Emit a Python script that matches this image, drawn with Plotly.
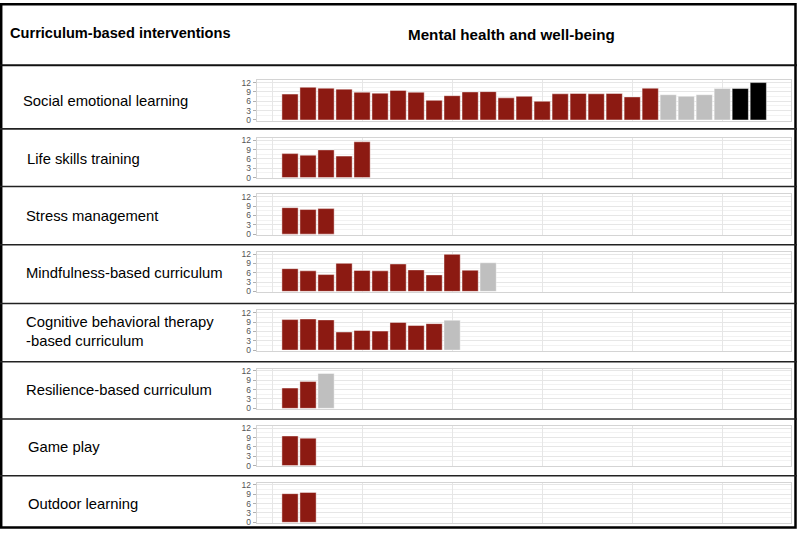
import plotly.graph_objects as go

W, H = 797, 533

row_labels = [
    "Social emotional learning",
    "Life skills training",
    "Stress management",
    "Mindfulness-based curriculum",
    "Cognitive behavioral therapy<br>-based curriculum",
    "Resilience-based curriculum",
    "Game play",
    "Outdoor learning",
]

sel_values = [8.3, 10.5, 10.2, 9.9, 8.9, 8.6, 9.5, 8.9, 6.3, 7.8, 9.0, 9.1, 7.1, 7.6, 6.0,
              8.4, 8.5, 8.4, 8.5, 7.4, 10.2, 8.1, 7.6, 8.1, 10.1, 10.1, 12.0]
sel_types = ["r", "r", "r", "r", "r", "r", "r", "r", "r", "r", "r", "r", "r", "r", "r",
             "r", "r", "r", "r", "r", "r", "g", "g", "g", "g", "k", "k"]
lst_values = [7.7, 7.2, 8.9, 6.9, 11.5]
lst_types = ["r", "r", "r", "r", "r"]
stress_values = [8.5, 7.9, 8.2]
stress_types = ["r", "r", "r"]
mind_values = [7.3, 6.6, 5.4, 9.0, 6.7, 6.6, 8.8, 6.9, 5.3, 11.9, 6.8, 9.2]
mind_types = ["r", "r", "r", "r", "r", "r", "r", "r", "r", "r", "r", "g"]
cbt_values = [9.8, 10.0, 9.7, 5.8, 6.3, 6.1, 8.9, 7.9, 8.5, 9.6]
cbt_types = ["r", "r", "r", "r", "r", "r", "r", "r", "r", "g"]
res_values = [6.5, 8.6, 11.2]
res_types = ["r", "r", "g"]
game_values = [9.5, 8.8]
game_types = ["r", "r"]
outdoor_values = [9.2, 9.6]
outdoor_types = ["r", "r"]

y_ticks = [0, 3, 6, 9, 12]

rows_values = [sel_values, lst_values, stress_values, mind_values, cbt_values,
               res_values, game_values, outdoor_values]
rows_types = [sel_types, lst_types, stress_types, mind_types, cbt_types,
              res_types, game_types, outdoor_types]

color_map = {"r": "#8c1a12", "g": "#bfbfbf", "k": "#000000"}

# layout (pixels)
panel_tops = [78.3, 136.7, 194.0, 252.0, 311.5, 370.5, 428.5, 486.0]
panel_h = 41
panel_left, panel_right = 256.7, 790.7
separators = [63, 127.5, 186, 245, 304.5, 363.5, 421.5, 479]

fig = go.Figure()
layout = dict(
    width=W, height=H,
    margin=dict(l=0, r=0, t=0, b=0),
    paper_bgcolor="white", plot_bgcolor="white",
    showlegend=False, bargap=0.1,
    font=dict(family="Liberation Sans, Arial, sans-serif"),
)

for i, (vals, types) in enumerate(zip(rows_values, rows_types)):
    n = i + 1
    xs = list(range(1, len(vals) + 1))
    fig.add_trace(go.Bar(
        x=xs, y=vals,
        marker=dict(color=[color_map[t] for t in types],
                    line=dict(color="rgba(255,255,255,0.55)", width=0.8)),
        xaxis=f"x{n}" if n > 1 else "x",
        yaxis=f"y{n}" if n > 1 else "y",
        hoverinfo="skip",
    ))
    top = panel_tops[i]
    ydom = [1 - (top + panel_h) / H, 1 - top / H]
    xkey = "xaxis" if n == 1 else f"xaxis{n}"
    ykey = "yaxis" if n == 1 else f"yaxis{n}"
    layout[xkey] = dict(
        domain=[panel_left / W, panel_right / W],
        anchor="y" if n == 1 else f"y{n}",
        range=[-0.85, 28.8],
        tick0=0, dtick=5, showticklabels=False, ticks="",
        showgrid=True, gridcolor="#e6e6e6", gridwidth=1,
        zeroline=False, showline=True, mirror=True,
        linecolor="#d4d4d4", linewidth=1,
    )
    layout[ykey] = dict(
        domain=ydom,
        anchor="x" if n == 1 else f"x{n}",
        range=[-0.25, 12.75],
        tickvals=y_ticks, ticktext=[str(v) for v in y_ticks],
        ticks="outside", ticklen=3, tickcolor="#b0b0b0", tickwidth=1,
        tickfont=dict(size=8.5, color="#555555"),
        showgrid=True, gridcolor="#e6e6e6", gridwidth=1,
        minor=dict(dtick=1.5, tick0=0, showgrid=True, gridcolor="#f2f2f2", ticks=""),
        zeroline=False, showline=True, mirror=True,
        linecolor="#d4d4d4", linewidth=1,
    )

fig.update_layout(**layout)

shapes = []
# outer border
shapes.append(dict(type="rect", xref="paper", yref="paper",
                   x0=1.2 / W, x1=1 - 1.5 / W, y0=1.5 / H, y1=1 - 1.2 / H,
                   line=dict(color="black", width=2.5)))
for k, s in enumerate(separators):
    shapes.append(dict(type="line", xref="paper", yref="paper",
                       x0=0, x1=1, y0=1 - s / H, y1=1 - s / H,
                       line=dict(color="#222222" if k else "#111111", width=2 if k == 0 else 1.6)))
fig.update_layout(shapes=shapes)

annotations = [
    dict(text="<b>Curriculum-based interventions</b>", x=8 / W, y=1 - 30 / H,
         xref="paper", yref="paper", xanchor="left", yanchor="middle",
         showarrow=False, font=dict(size=14.6, color="black")),
    dict(text="<b>Mental health and well-being</b>", x=511 / W, y=1 - 32 / H,
         xref="paper", yref="paper", xanchor="center", yanchor="middle",
         showarrow=False, font=dict(size=15.2, color="black")),
]
label_x = [21, 25, 24, 24, 24, 24, 26, 26]
for i, lab in enumerate(row_labels):
    cy = panel_tops[i] + panel_h / 2 + 1
    annotations.append(dict(text=lab, x=label_x[i] / W, y=1 - cy / H,
                            xref="paper", yref="paper", xanchor="left", yanchor="middle",
                            align="left", showarrow=False,
                            font=dict(size=14.8, color="black")))
fig.update_layout(annotations=annotations)

fig.write_html("out.html", config={"displayModeBar": False},
               post_script="document.body.style.margin='0';document.body.style.overflow='hidden';")
